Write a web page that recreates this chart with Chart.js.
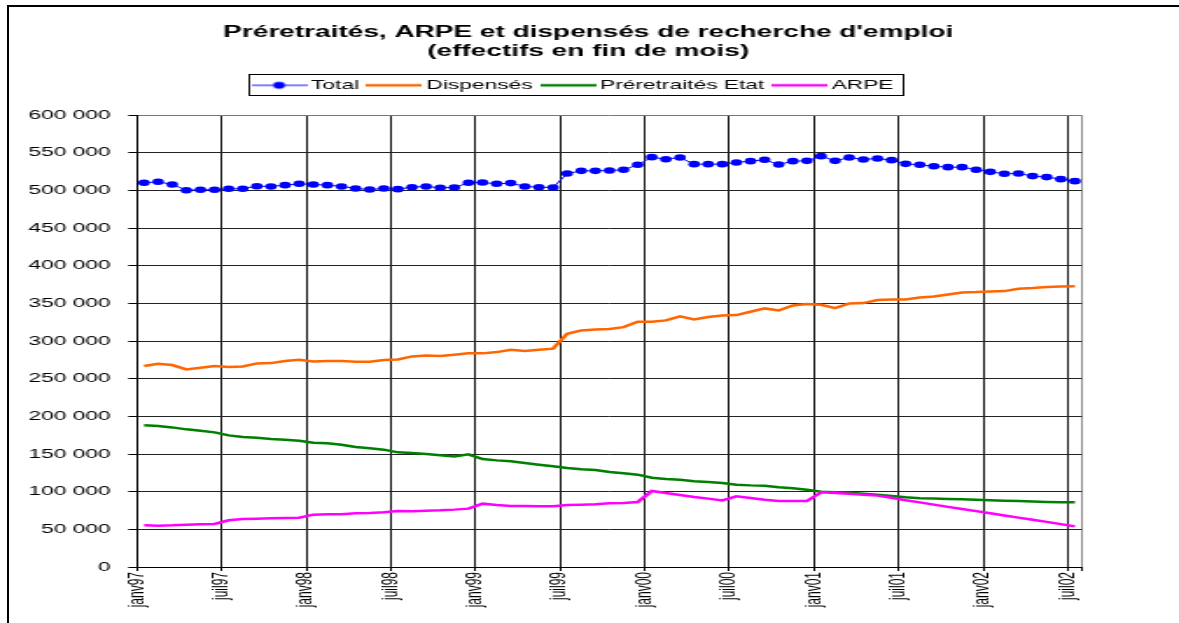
<!DOCTYPE html>
<html lang="fr">
<head>
<meta charset="utf-8">
<title>Préretraités, ARPE et dispensés de recherche d'emploi</title>
<script src="https://cdn.jsdelivr.net/npm/chart.js@4"></script>
<style>
  html, body { margin: 0; padding: 0; overflow: hidden; background: #fff; }
  #wrap { position: relative; width: 1179px; height: 623px; }
  /* the original picture is stretched sideways, so the canvas is too */
  #graph { position: absolute; left: 0; top: 0; transform-origin: 0 0; transform: scaleX(1.7493); }
  #cadre { position: absolute; left: 7px; top: 5px; width: 2000px; height: 2000px;
           border-left: 2px solid #000; border-top: 2px solid #000; pointer-events: none; }
</style>
</head>
<body>
<div id="wrap">
  <canvas id="graph" width="674" height="623"></canvas>
  <div id="cadre"></div>
</div>
<script>
var moisTicks = ['janv97', 'juil97', 'janv98', 'juil98', 'janv99', 'juil99',
                 'janv00', 'juil00', 'janv01', 'juil01', 'janv02', 'juil02'];

// effectifs mensuels, janv97 -> juil02
var total = [
  510200, 511600, 508000, 500400, 500900, 500900, 502300, 502300, 505700, 505400, 507100, 508900,
  508000, 507100, 505400, 502700, 501300, 502700, 501800, 504400, 505400, 503600, 504000, 510200,
  510700, 508900, 509800, 505400, 504400, 504000, 522600, 526100, 526100, 526600, 527500, 534100,
  544300, 541600, 543800, 535000, 535000, 535000, 537200, 539000, 540800, 534500, 539000, 539400,
  545600, 539400, 543800, 541200, 542500, 540300, 535400, 534100, 532300, 531000, 531000, 527500,
  524800, 522200, 522600, 519100, 517800, 515100, 512400
];
var dispenses = [
  266900, 269900, 268200, 262400, 264600, 266900, 265500, 266400, 270400, 270800, 273500, 275300,
  273000, 273500, 273500, 272600, 272600, 274800, 275700, 279700, 281000, 280100, 281900, 283700,
  283700, 285400, 288500, 286800, 288500, 289900, 309800, 314200, 315500, 316000, 318600, 325700,
  325700, 327500, 332800, 328800, 331900, 334100, 334600, 339000, 343400, 340700, 347400, 349200,
  348300, 343800, 350000, 350500, 354500, 355400, 355400, 358000, 359300, 362000, 364600, 365100,
  366000, 366400, 369500, 370400, 371700, 372600, 373000
];
var preretraites = [
  188100, 187200, 185400, 182800, 181000, 178800, 174800, 172600, 171700, 169900, 169000, 167700,
  165100, 164200, 162400, 159300, 157600, 155800, 152300, 151400, 150000, 148300, 146900, 149600,
  143400, 141600, 140300, 138100, 135900, 133700, 131400, 129700, 128800, 126100, 124400, 122600,
  118600, 116900, 116000, 113800, 112900, 111500, 109300, 108400, 108000, 105900, 104500, 102700,
  100100, 99200, 98700, 97400, 96100, 94200, 92500, 91200, 90900, 90400, 89900, 89300,
  88800, 88100, 87600, 86900, 86400, 86000, 85900
];
var arpe = [
  55300, 54900, 55300, 56200, 56700, 57100, 62000, 63800, 64200, 64600, 65100, 65500,
  69500, 70000, 70000, 71300, 71700, 72600, 74400, 73900, 74800, 75300, 76200, 77500,
  84100, 82300, 81000, 81000, 80600, 80600, 82300, 82800, 83200, 84600, 85000, 86300,
  100900, 98200, 95600, 92900, 90800, 88500, 93800, 91600, 89400, 87800, 87800, 87600,
  99200, 98300, 97400, 96100, 94800, 92000, 88700, 85800, 82800, 79900, 77100, 74200,
  71300, 68500, 65600, 62800, 59900, 56900, 54000
];

var police = "'Liberation Sans', Arial, sans-serif";

function enPoints(serie) {
  return serie.map(function (v, i) { return {x: i, y: v}; });
}

// petit trait (et point) pour la légende
function symbole(couleur, epaisseur, avecPoint) {
  var c = document.createElement('canvas');
  c.width = 32;
  c.height = 10;
  var g = c.getContext('2d');
  g.strokeStyle = couleur;
  g.lineWidth = epaisseur;
  g.beginPath();
  g.moveTo(0, 5);
  g.lineTo(32, 5);
  g.stroke();
  if (avecPoint) {
    g.fillStyle = couleur;
    g.beginPath();
    g.arc(16, 5, 3.4, 0, Math.PI * 2);
    g.fill();
  }
  return c;
}

var symboles = [
  symbole('#0000FF', 1, true),
  symbole('#FF6600', 2.5, false),
  symbole('#008000', 2.5, false),
  symbole('#FF00FF', 2.5, false)
];

// recentre titre et légende, puis encadre la légende
var cadreLegende = {
  id: 'cadreLegende',
  afterLayout: function (chart) {
    chart.titleBlock.left += 27;
    chart.titleBlock.right += 27;
    chart.legend.left += 20;
    chart.legend.right += 20;
  },
  afterDraw: function (chart) {
    var hb = chart.legend.legendHitBoxes;
    if (!hb || !hb.length) return;
    var premier = hb[0], dernier = hb[hb.length - 1];
    var x0 = Math.round(premier.left - 4.2 - 1.5);
    var x1 = Math.round(dernier.left + dernier.width + 5.7);
    var yc = premier.top + premier.height / 2;
    var g = chart.ctx;
    g.save();
    g.strokeStyle = '#000';
    g.lineWidth = 1;
    g.strokeRect(x0 + 0.5, Math.round(yc - 11.5) + 0.5, x1 - x0, 21);
    g.restore();
  }
};

var ctx = document.getElementById('graph');
var myChart = new Chart(ctx, {
  type: 'line',
  data: {
    datasets: [
      {
        label: 'Total',
        data: enPoints(total),
        borderColor: '#0000FF',
        backgroundColor: '#0000FF',
        borderWidth: 1,
        pointRadius: 3.3,
        pointBorderWidth: 0,
        pointBackgroundColor: '#0000FF',
        order: 0
      },
      {
        label: 'Dispensés',
        data: enPoints(dispenses),
        borderColor: '#FF6600',
        backgroundColor: '#FF6600',
        borderWidth: 2.5,
        pointRadius: 0,
        order: 2
      },
      {
        label: 'Préretraités Etat',
        data: enPoints(preretraites),
        borderColor: '#008000',
        backgroundColor: '#008000',
        borderWidth: 2.5,
        pointRadius: 0,
        order: 3
      },
      {
        label: 'ARPE',
        data: enPoints(arpe),
        borderColor: '#FF00FF',
        backgroundColor: '#FF00FF',
        borderWidth: 2.5,
        pointRadius: 0,
        order: 1
      }
    ]
  },
  options: {
    responsive: false,
    animation: false,
    layout: { padding: { left: 0, right: 55.5, top: 0, bottom: 0 } },
    plugins: {
      title: {
        display: true,
        text: ["Préretraités, ARPE et dispensés de recherche d'emploi", '(effectifs en fin de mois)'],
        color: '#000',
        font: { family: police, size: 16, weight: 'bold' },
        padding: { top: 22.5, bottom: 9.5 }
      },
      subtitle: {
        display: true,
        text: '',
        weight: 500,
        font: { size: 1, lineHeight: 1 },
        padding: { top: 12.4, bottom: 0 }
      },
      legend: {
        position: 'top',
        labels: {
          usePointStyle: true,
          pointStyleWidth: 23.6,
          padding: 8.4,
          color: '#000',
          font: { family: police, size: 13 },
          sort: function (a, b) { return a.datasetIndex - b.datasetIndex; },
          generateLabels: function (chart) {
            var items = Chart.defaults.plugins.legend.labels.generateLabels(chart);
            items.forEach(function (it) { it.pointStyle = symboles[it.datasetIndex]; });
            return items;
          }
        }
      },
      tooltip: { enabled: false }
    },
    elements: { line: { tension: 0 } },
    scales: {
      x: {
        type: 'linear',
        min: -0.5,
        max: 66.5,
        afterBuildTicks: function (s) {
          var t = moisTicks.map(function (m, i) { return {value: i * 6 - 0.5}; });
          t.push({value: 66.5});
          s.ticks = t;
        },
        afterFit: function (s) { s.height = 56; },
        grid: {
          color: function (c) { return c.tick && c.tick.value === 66.5 ? '#888' : '#111'; },
          lineWidth: 1,
          tickLength: 4,
          tickColor: '#000'
        },
        border: { color: '#000', width: 1 },
        ticks: {
          autoSkip: false,
          minRotation: 90,
          maxRotation: 90,
          padding: 1,
          color: '#000',
          font: { family: police, size: 12 },
          callback: function (v, i) { return moisTicks[i] || ''; }
        }
      },
      y: {
        min: 0,
        max: 600000,
        afterFit: function (s) { s.width = 78.3; },
        grid: {
          color: function (c) { return c.tick && c.tick.value === 600000 ? '#777' : '#222'; },
          lineWidth: 1,
          tickLength: 5,
          tickColor: '#000'
        },
        border: { color: '#000', width: 1 },
        ticks: {
          stepSize: 50000,
          padding: 10,
          color: '#000',
          font: { family: police, size: 13 },
          callback: function (v) { return String(v).replace(/\B(?=(\d{3})+(?!\d))/g, ' '); }
        }
      }
    }
  },
  plugins: [cadreLegende]
});
</script>
</body>
</html>
